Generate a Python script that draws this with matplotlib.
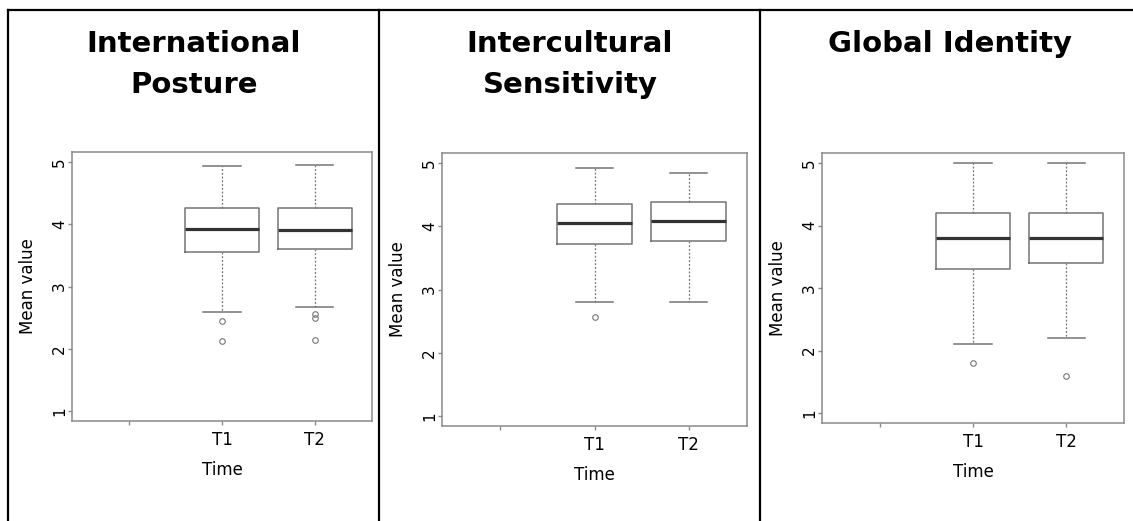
import matplotlib as mpl

mpl.use('agg')

import matplotlib.pyplot as plt
from matplotlib.lines import Line2D

plt.rc('font', family='DejaVu Sans')

titles = [["International", "Posture"],
          ["Intercultural", "Sensitivity"],
          ["Global Identity"]]
groups = ["T1", "T2"]
tick_labels = ["", "T1", "T2"]

# five-number summaries per scale: lower whisker, Q1, median, Q3, upper whisker
posture_t1 = [2.59, 3.55, 3.92, 4.26, 4.94]
posture_t2 = [2.67, 3.60, 3.90, 4.26, 4.95]
posture_out_t1 = [2.45, 2.13]
posture_out_t2 = [2.56, 2.50, 2.14]

sensitivity_t1 = [2.80, 3.72, 4.05, 4.35, 4.93]
sensitivity_t2 = [2.81, 3.76, 4.09, 4.38, 4.84]
sensitivity_out_t1 = [2.56]
sensitivity_out_t2 = []

identity_t1 = [2.10, 3.30, 3.80, 4.20, 5.00]
identity_t2 = [2.20, 3.40, 3.80, 4.20, 5.00]
identity_out_t1 = [1.80]
identity_out_t2 = [1.60]

summaries = [(posture_t1, posture_t2), (sensitivity_t1, sensitivity_t2), (identity_t1, identity_t2)]
outliers = [(posture_out_t1, posture_out_t2), (sensitivity_out_t1, sensitivity_out_t2),
            (identity_out_t1, identity_out_t2)]

W, H = 1133, 521
fig = plt.figure(figsize=(W / 100, H / 100), dpi=100)

# panel boxes in pixels: left, top, right, bottom
boxes = [(72, 152, 372, 421), (442, 153, 747, 426), (822, 153, 1124, 423)]
title_x = [194, 570, 950]
title_base = [52, 93]

grey = '#8a8a8a'
boxcol = '#747474'


def summary(label, vals, fl):
    return {'label': label, 'whislo': vals[0], 'q1': vals[1], 'med': vals[2],
            'q3': vals[3], 'whishi': vals[4], 'fliers': fl}


for k in range(3):
    l, t, r, b = boxes[k]
    ax = fig.add_axes([l / W, 1 - b / H, (r - l) / W, (b - t) / H])
    stats = [summary(groups[i], summaries[k][i], outliers[k][i]) for i in range(2)]
    ax.bxp(stats, positions=[2, 3], widths=0.8, capwidths=0.4,
           boxprops=dict(color=boxcol, linewidth=1.1),
           medianprops=dict(color='#333333', linewidth=2.3, solid_capstyle='butt'),
           whiskerprops=dict(color=boxcol, linewidth=0.9, linestyle=(0, (1.5, 1.5))),
           capprops=dict(color=boxcol, linewidth=1.1),
           flierprops=dict(marker='o', markersize=4, markerfacecolor='none',
                           markeredgecolor=boxcol, markeredgewidth=0.8))

    ax.set_xlim(0.38, 3.62)
    ax.set_ylim(0.84, 5.16)
    ax.set_xticks([1, 2, 3])
    ax.set_xticklabels(tick_labels, fontsize=12)
    ax.set_yticks([1, 2, 3, 4, 5])
    ax.set_yticklabels(['1', '2', '3', '4', '5'], fontsize=11, rotation=90, va='center')
    ax.tick_params(axis='both', color=grey, length=3, width=1)
    ax.tick_params(axis='x', pad=4.5)
    ax.tick_params(axis='y', pad=0.5)
    for s in ax.spines.values():
        s.set_color(grey)
        s.set_linewidth(1.1)

    ax.set_xlabel("Time", fontsize=12, labelpad=8.5)
    ax.set_ylabel("Mean value", fontsize=12, labelpad=11)

    for j, line in enumerate(titles[k]):
        fig.text(title_x[k] / W, 1 - title_base[j] / H, line, ha='center', va='baseline',
                 fontsize=21, fontweight='bold')

# table rules around the three cells
rule = dict(color='black', linewidth=1.6, transform=fig.transFigure)
fig.add_artist(Line2D([8 / W, 1], [1 - 10 / H, 1 - 10 / H], **rule))
for xp in [8, 379, 760]:
    fig.add_artist(Line2D([xp / W, xp / W], [0, 1 - 10 / H], **rule))

fig.savefig('out.png', dpi=100)
